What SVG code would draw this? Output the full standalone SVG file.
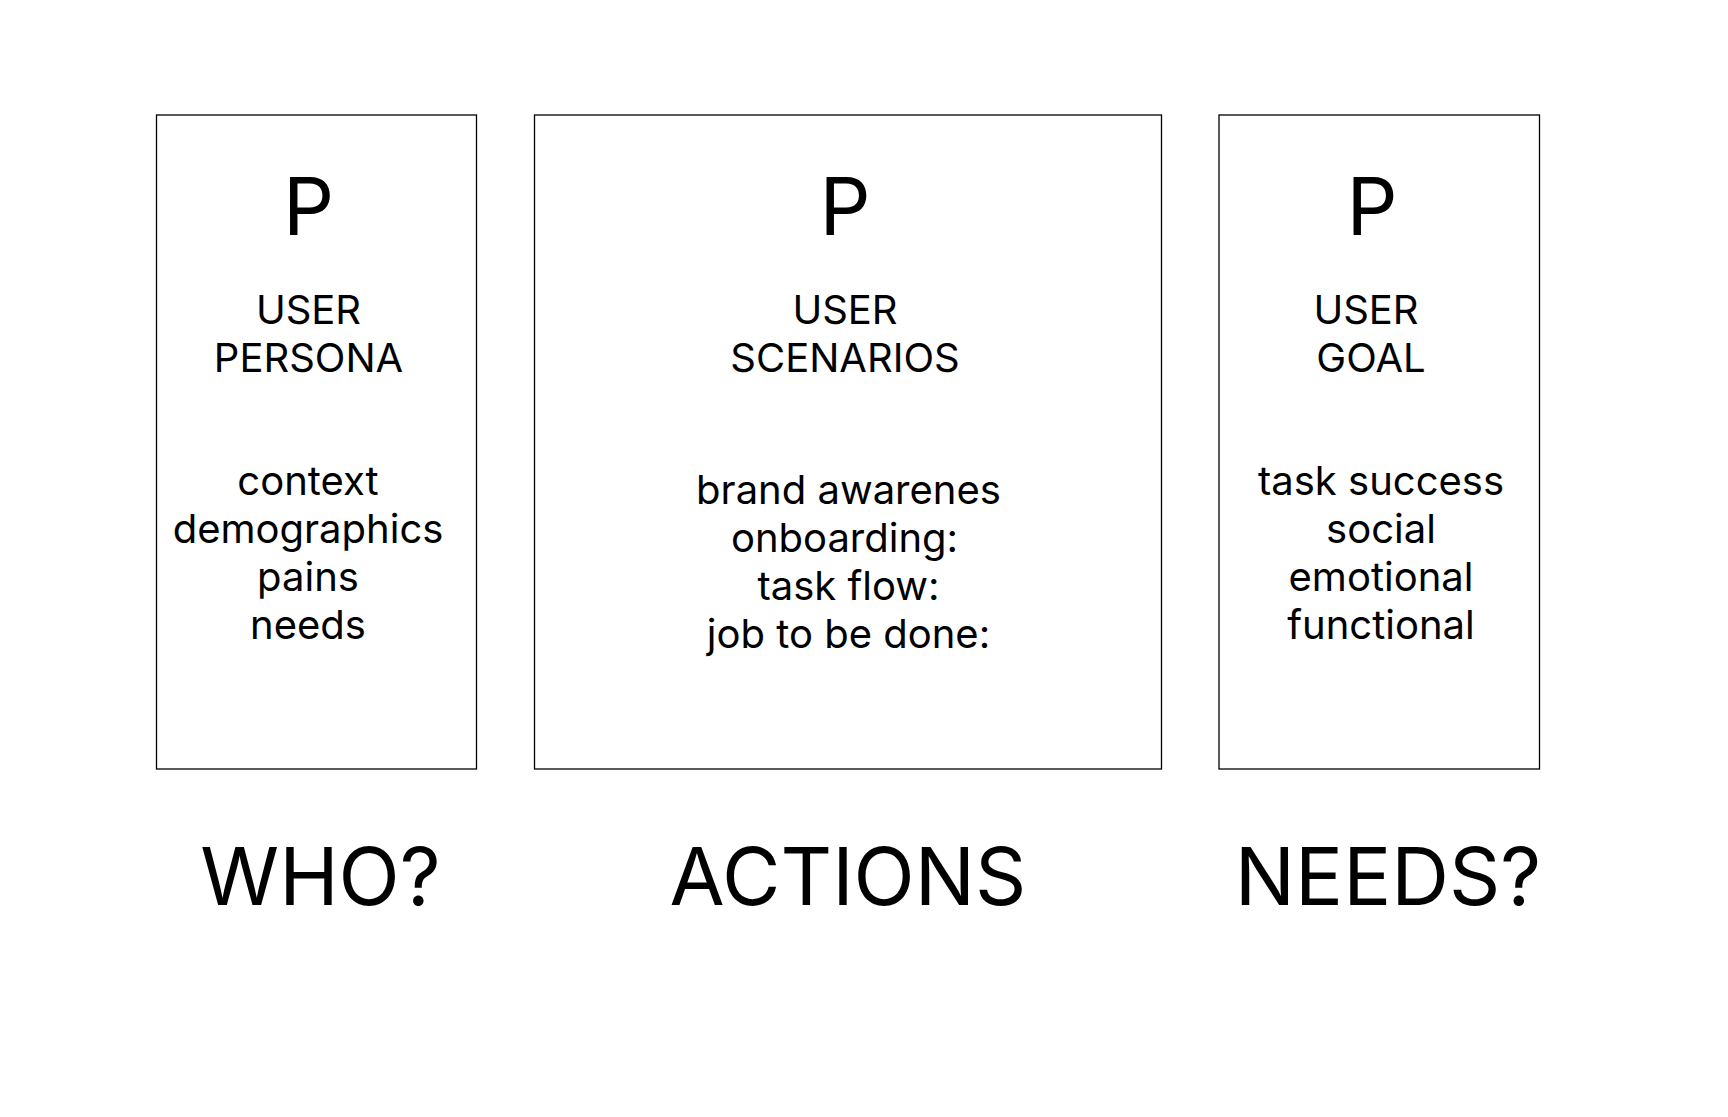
<svg xmlns="http://www.w3.org/2000/svg" width="1728" height="1117" viewBox="0 0 1728 1117">
<style>
.box{fill:#fff;stroke:#000;stroke-width:1.3}
text{font-family:Inter,"Noto Sans","Liberation Sans",sans-serif;fill:#000;text-anchor:middle}
.p{font-size:80px}
.h{font-size:40px}
.b{font-size:40px}
.big{font-size:80px}
</style>
<rect width="1728" height="1117" fill="#fff"/>
<g id="connectors"></g>
<g id="persona">
<rect class="box" x="156.5" y="115" width="320" height="654"/>
<text class="p" x="308.5" y="235">P</text>
<text class="h" x="308.5" y="324">USER</text>
<text class="h" x="308.5" y="372">PERSONA</text>
<text class="b" x="308" y="495">context</text>
<text class="b" x="308" y="543">demographics</text>
<text class="b" x="308" y="591">pains</text>
<text class="b" x="308" y="639">needs</text>
</g>
<g id="scenarios">
<rect class="box" x="534.5" y="115" width="627" height="654"/>
<text class="p" x="845" y="235">P</text>
<text class="h" x="845" y="324">USER</text>
<text class="h" x="845" y="372">SCENARIOS</text>
<text class="b" x="848.5" y="504">brand awarenes</text>
<text class="b" x="844.5" y="552">onboarding:</text>
<text class="b" x="848.5" y="600">task flow:</text>
<text class="b" x="848.5" y="648">job to be done:</text>
</g>
<g id="goal">
<rect class="box" x="1219" y="115" width="320.5" height="654"/>
<text class="p" x="1372" y="235">P</text>
<text class="h" x="1366" y="324">USER</text>
<text class="h" x="1371" y="372">GOAL</text>
<text class="b" x="1381" y="495">task success</text>
<text class="b" x="1381" y="543">social</text>
<text class="b" x="1381" y="591">emotional</text>
<text class="b" x="1381" y="639">functional</text>
</g>
<g id="who"><text class="big" x="320.5" y="905">WHO?</text></g>
<g id="actions"><text class="big" x="848" y="905">ACTIONS</text></g>
<g id="needs"><text class="big" x="1388" y="905">NEEDS?</text></g>
</svg>
